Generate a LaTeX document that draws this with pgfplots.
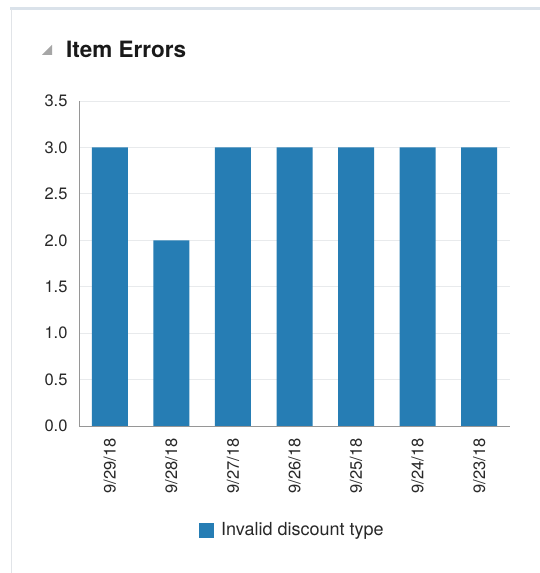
\documentclass[border=0pt]{standalone}
\usepackage{pgfplots}
\pgfplotsset{compat=1.18}
\usepackage{fontspec}
\setmainfont{TeX Gyre Heros}
\definecolor{barblue}{RGB}{38,125,180}
\definecolor{gridgray}{RGB}{232,234,236}
\definecolor{axisgray}{RGB}{150,150,150}
\definecolor{paneltop}{RGB}{218,226,234}
\definecolor{panelleft}{RGB}{225,228,232}
\definecolor{txt}{RGB}{40,40,40}

\pgfplotstableread{
x y
0 3
1 2
2 3
3 3
4 3
5 3
6 3
}\itemerrors

\begin{document}
\begin{tikzpicture}[x=1pt,y=1pt]
\path[use as bounding box, fill=white] (0,0) rectangle (540,573);
% panel frame
\draw[paneltop, line width=2.5pt] (10,564.5) -- (540,564.5);
\draw[panelleft, line width=1pt] (11.5,564) -- (11.5,0);
% title with collapse triangle
\fill[gray!70] (42,518) -- (52,518) -- (52,528) -- cycle;
\node[anchor=base west, inner sep=0pt, font=\fontsize{22.5pt}{26pt}\selectfont\bfseries, text=black!90]
  at (66,515) {Item Errors};

\begin{axis}[
    at={(79pt,147pt)}, anchor=south west,
    scale only axis,
    width=431pt, height=325pt,
    ybar, bar width=36pt,
    xmin=-0.5, xmax=6.5,
    ymin=0, ymax=3.5,
    ytick={0,0.5,...,3.5},
    xtick=data,
    xticklabels={9/29/18,9/28/18,9/27/18,9/26/18,9/25/18,9/24/18,9/23/18},
    x tick label style={rotate=90, anchor=east, font=\fontsize{16.5pt}{19pt}\selectfont, text=txt},
    y tick label style={font=\fontsize{16.5pt}{19pt}\selectfont, text=txt},
    /pgf/number format/assume math mode=true,
    yticklabel style={/pgf/number format/.cd, fixed, fixed zerofill, precision=1},
    major tick length=0pt,
    xtick pos=bottom, ytick pos=left,
    axis x line=bottom, axis y line=left,
    axis line style={axisgray, line width=0.8pt, -},
    ymajorgrids=true,
    grid style={gridgray, line width=0.8pt},
    xticklabel shift=9pt,
    yticklabel shift=8pt,
    legend style={at={(0.495,-0.32)}, anchor=center, draw=none,
      font=\fontsize{18pt}{21pt}\selectfont, text=txt},
    legend image code/.code={\fill[barblue] (0pt,-7.5pt) rectangle (15pt,7.5pt); \path (20pt,0pt);},
]
\addplot[fill=barblue, draw=none] table[x=x, y=y] {\itemerrors};
\addlegendentry{Invalid discount type}
\end{axis}
\end{tikzpicture}
\end{document}
